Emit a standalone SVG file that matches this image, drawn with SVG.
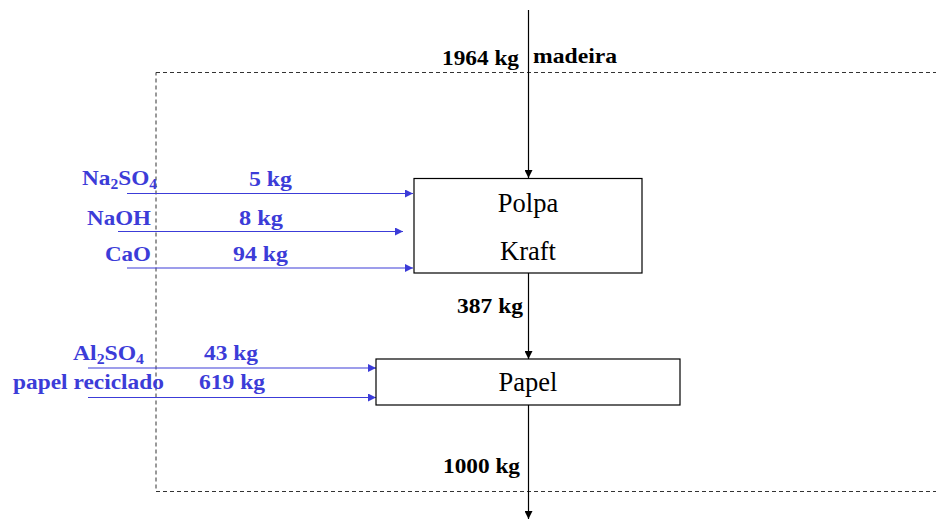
<svg xmlns="http://www.w3.org/2000/svg" width="936" height="519" viewBox="0 0 936 519">
<defs>
<marker id="ab" viewBox="0 0 10 10" refX="10" refY="5" markerWidth="10" markerHeight="8" markerUnits="userSpaceOnUse" orient="auto"><path d="M0,0 L10,5 L0,10 z" fill="#000"/></marker>
<marker id="au" viewBox="0 0 10 10" refX="10" refY="5" markerWidth="10" markerHeight="8" markerUnits="userSpaceOnUse" orient="auto"><path d="M0,0 L10,5 L0,10 z" fill="#3c3cd8"/></marker>
<style>
.bx{fill:#fff;stroke:#000;stroke-width:1.2}
.bl{stroke:#000;stroke-width:1.2;fill:none;marker-end:url(#ab)}
.ul{stroke:#3c3cd8;stroke-width:1.2;fill:none;marker-end:url(#au)}
.t{font-family:"Liberation Serif","Times New Roman",serif;font-size:26.5px;fill:#000}
.k{font-family:"Liberation Serif","Times New Roman",serif;font-size:21px;font-weight:bold;fill:#000}
.u{font-family:"Liberation Serif","Times New Roman",serif;font-size:21px;font-weight:bold;fill:#3c3cd8}
</style>
</defs>
<rect id="boundary" x="156" y="72.5" width="790" height="419" fill="none" stroke="#333" stroke-width="1" stroke-dasharray="4,3"/>
<g id="connectors">
<line class="bl" x1="528.5" y1="10" x2="528.5" y2="178"/>
<line class="bl" x1="528.5" y1="273" x2="528.5" y2="359"/>
<line class="bl" x1="528.5" y1="405" x2="528.5" y2="519"/>
<line class="ul" x1="127" y1="193.5" x2="413" y2="193.5"/>
<line class="ul" x1="118" y1="231.5" x2="403" y2="231.5"/>
<line class="ul" x1="127" y1="268" x2="413" y2="268"/>
<line class="ul" x1="88" y1="368" x2="376" y2="368"/>
<line class="ul" x1="88" y1="397.5" x2="376" y2="397.5"/>
</g>
<g id="polpa">
<rect class="bx" x="414" y="178.5" width="228" height="94.5"/>
<text class="t" x="528" y="212" text-anchor="middle">Polpa</text>
<text class="t" x="528" y="260" text-anchor="middle">Kraft</text>
</g>
<g id="papel">
<rect class="bx" x="376" y="359" width="304" height="46"/>
<text class="t" x="528" y="391" text-anchor="middle">Papel</text>
</g>
<g id="labels">
<text class="k" x="442" y="65" textLength="77" lengthAdjust="spacingAndGlyphs">1964 kg</text>
<text class="k" x="533" y="63" textLength="84" lengthAdjust="spacingAndGlyphs">madeira</text>
<text class="k" x="457" y="313" textLength="66" lengthAdjust="spacingAndGlyphs">387 kg</text>
<text class="k" x="443" y="473" textLength="77" lengthAdjust="spacingAndGlyphs">1000 kg</text>
<text class="u" x="82" y="185" textLength="75" lengthAdjust="spacingAndGlyphs">Na<tspan font-size="14" dy="4">2</tspan><tspan dy="-4">SO</tspan><tspan font-size="14" dy="4">4</tspan></text>
<text class="u" x="249" y="186" textLength="43" lengthAdjust="spacingAndGlyphs">5 kg</text>
<text class="u" x="87" y="225" textLength="64" lengthAdjust="spacingAndGlyphs">NaOH</text>
<text class="u" x="239" y="225" textLength="44" lengthAdjust="spacingAndGlyphs">8 kg</text>
<text class="u" x="105" y="261" textLength="46" lengthAdjust="spacingAndGlyphs">CaO</text>
<text class="u" x="233" y="261" textLength="55" lengthAdjust="spacingAndGlyphs">94 kg</text>
<text class="u" x="73" y="359.5" textLength="71" lengthAdjust="spacingAndGlyphs">Al<tspan font-size="14" dy="4">2</tspan><tspan dy="-4">SO</tspan><tspan font-size="14" dy="4">4</tspan></text>
<text class="u" x="204" y="359.5" textLength="54" lengthAdjust="spacingAndGlyphs">43 kg</text>
<text class="u" x="13" y="388.5" textLength="151" lengthAdjust="spacingAndGlyphs">papel reciclado</text>
<text class="u" x="199" y="388.5" textLength="66" lengthAdjust="spacingAndGlyphs">619 kg</text>
</g>
</svg>
